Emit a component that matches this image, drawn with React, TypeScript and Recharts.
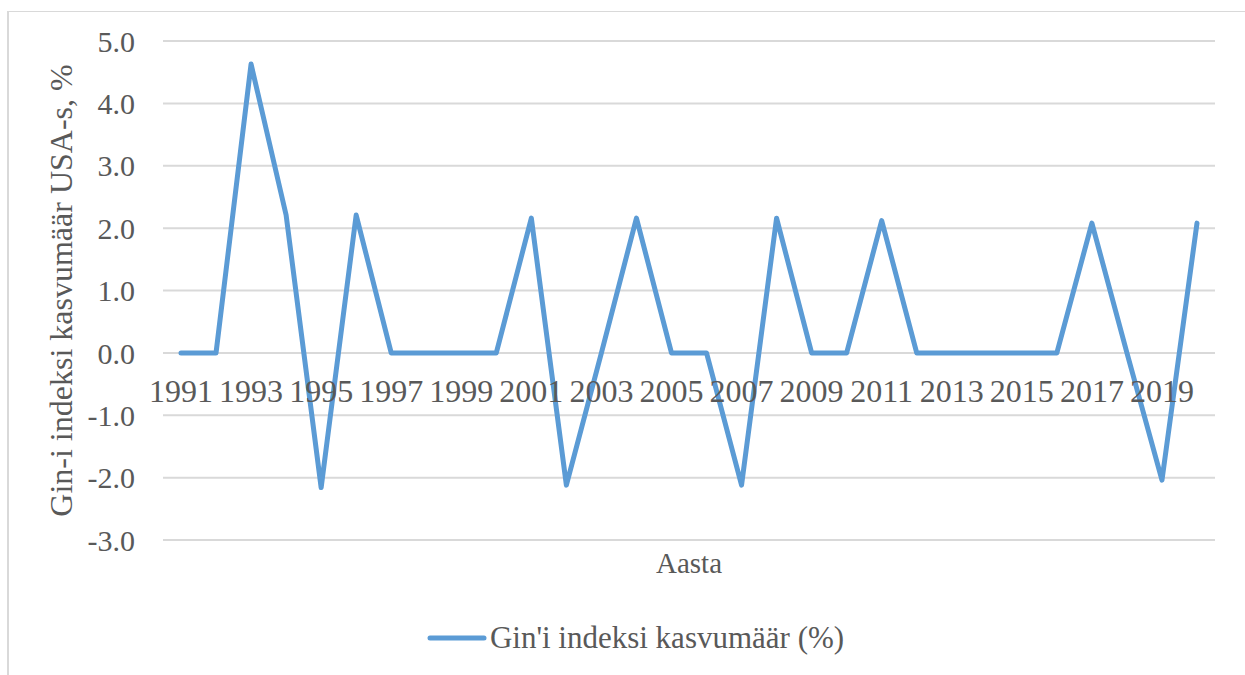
import React from 'react';
import { LineChart, Line, XAxis, YAxis, CartesianGrid, Legend, ReferenceDot } from 'recharts';

const years = [1991, 1992, 1993, 1994, 1995, 1996, 1997, 1998, 1999, 2000, 2001, 2002, 2003, 2004, 2005, 2006, 2007, 2008, 2009, 2010, 2011, 2012, 2013, 2014, 2015, 2016, 2017, 2018, 2019, 2020];
const growth = [0, 0, 4.63, 2.21, -2.16, 2.21, 0, 0, 0, 0, 2.16, -2.12, 0, 2.16, 0, 0, -2.12, 2.16, 0, 0, 2.12, 0, 0, 0, 0, 0, 2.08, 0, -2.04, 2.08];
const yearLabels = [1991, 1993, 1995, 1997, 1999, 2001, 2003, 2005, 2007, 2009, 2011, 2013, 2015, 2017, 2019];
const yTicks = [-3, -2, -1, 0, 1, 2, 3, 4, 5];
const seriesName = "Gin'i indeksi kasvumäär (%)";
const yTitle = 'Gin-i indeksi kasvumäär USA-s, %';
const xTitle = 'Aasta';

const data = years.map((y, i) => ({ year: y, value: growth[i] }));

const FONT = '"Liberation Serif", "Times New Roman", serif';
const TEXT = '#595959';
const BLUE = '#5B9BD5';
const GRID = '#D9D9D9';

const YLabel = (props: any) => {
  const vb = props.viewBox || {};
  const x = vb.x + 61;
  const y = vb.y + vb.height / 2;
  return (
    <text x={x} y={y} transform={`rotate(-90, ${x}, ${y})`} textAnchor="middle" dy="0.355em"
      fill={TEXT} fontFamily={FONT} fontSize={32}>{yTitle}</text>
  );
};

const XLabel = (props: any) => {
  const vb = props.viewBox || {};
  const x = vb.x + vb.width / 2;
  const y = vb.y + 33;
  return (
    <text x={x} y={y} textAnchor="middle" fill={TEXT} fontFamily={FONT} fontSize={29}>{xTitle}</text>
  );
};

const LegendContent = (props: any) => {
  const p = (props.payload || [])[0] || { value: seriesName, color: BLUE };
  return (
    <div style={{ display: 'flex', justifyContent: 'center', alignItems: 'center', height: 46, fontFamily: FONT, fontSize: 31, color: TEXT }}>
      <svg width={60} height={10} style={{ display: 'block' }}>
        <line x1={3} y1={5} x2={57} y2={5} stroke={p.color || BLUE} strokeWidth={5} strokeLinecap="round" />
      </svg>
      <span style={{ marginLeft: 3 }}>{p.value}</span>
    </div>
  );
};

export default function App() {
  return (
    <div style={{ position: 'absolute', left: 0, top: 0, width: 1245, height: 675, overflow: 'hidden', background: '#fff' }}>
      <div style={{ position: 'absolute', left: 7, top: 11, width: 1300, height: 700, borderLeft: `2px solid ${GRID}`, borderTop: `1px solid ${GRID}` }} />
      <div style={{ position: 'absolute', left: 0, top: 0 }}>
        <LineChart width={1245} height={675} data={data} margin={{ top: 41, right: 30, bottom: 95, left: 0 }}>
          <CartesianGrid vertical={false} stroke={GRID} strokeWidth={2} />
          <XAxis dataKey="year" type="category" tick={false} axisLine={false} tickLine={false} height={40}
            padding={{ left: 18, right: 18 }} label={{ content: XLabel }} />
          <YAxis width={163} domain={[-3, 5]} ticks={yTicks} interval={0} axisLine={false} tickLine={false} tickSize={0} tickMargin={28}
            tickFormatter={(v: number) => v.toFixed(1)}
            tick={{ fill: TEXT, fontFamily: FONT, fontSize: 30 }}
            label={{ content: YLabel }} />
          {yearLabels.map((yr) => (
            <ReferenceDot key={yr} x={yr} y={0} r={0} fill="none" stroke="none" ifOverflow="visible"
              label={{ value: String(yr), position: 'bottom', offset: 26, fill: TEXT, fontFamily: FONT, fontSize: 32 }} />
          ))}
          <Line type="linear" dataKey="value" name={seriesName} stroke={BLUE} strokeWidth={5} dot={false}
            strokeLinejoin="round" strokeLinecap="round" isAnimationActive={false} />
          <Legend layout="horizontal" verticalAlign="middle" align="center" content={LegendContent}
            wrapperStyle={{ top: 615, left: 13, width: 1245, height: 46 }} />
        </LineChart>
      </div>
    </div>
  );
}
